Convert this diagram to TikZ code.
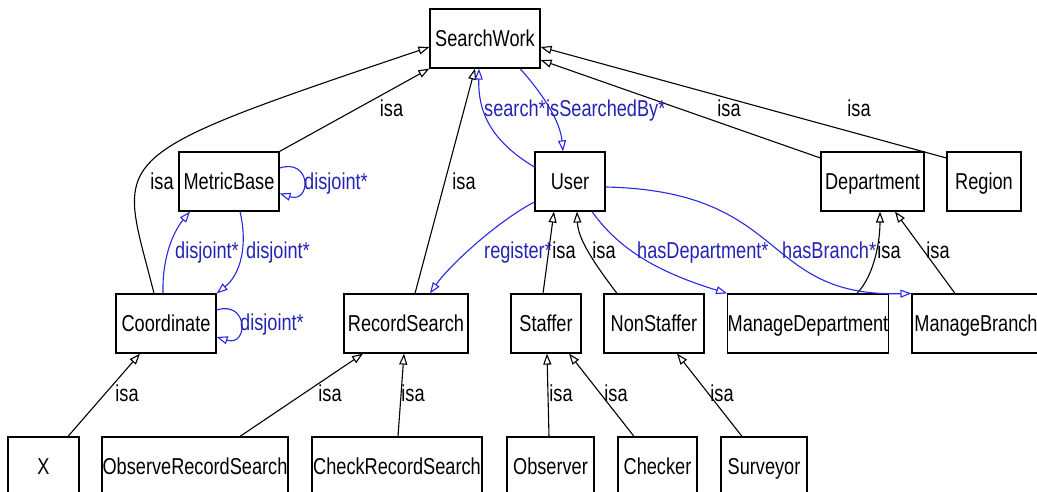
\documentclass[tikz,border=0pt]{standalone}
\usepackage{fontspec}
\setmainfont[FakeStretch=0.79]{Liberation Sans}
\usetikzlibrary{arrows.meta}

\definecolor{relline}{RGB}{40,40,230}
\definecolor{reltext}{RGB}{35,35,180}

\tikzset{
	cls/.style={draw, line width=1.2pt, minimum height=59pt, inner sep=0pt, text height=16.4pt, text depth=0pt},
	isa/.style={draw, line width=1.1pt, -{Triangle[open, length=11pt, width=8pt]}},
	rel/.style={isa, draw=relline},
	lbl/.style={inner sep=0pt, text height=16.4pt, text depth=0pt},
	rellbl/.style={lbl, text=reltext}
}

\begin{document}
\begin{tikzpicture}[x=1pt,y=-1pt,font=\fontsize{23}{27}\selectfont]
			%\draw [help lines,step=50] (0,0) grid (1037,492);
			\useasboundingbox (0,0) rectangle (1037,492);
			% classes
			\node[cls,minimum width=110pt] (searchwork) at (485,38.5) {SearchWork};
			\node[cls,minimum width=100pt] (metricbase) at (229,181.5) {MetricBase};
			\node[cls,minimum width=70pt] (user) at (570,181.5) {User};
			\node[cls,minimum width=103pt] (department) at (872.5,181.5) {Department};
			\node[cls,minimum width=74pt] (region) at (984,181.5) {Region};
			\node[cls,minimum width=100pt] (coordinate) at (166,323.5) {Coordinate};
			\node[cls,minimum width=124pt] (recordsearch) at (406,323.5) {RecordSearch};
			\node[cls,minimum width=70pt] (staffer) at (546,323.5) {Staffer};
			\node[cls,minimum width=100pt] (nonstaffer) at (654,323.5) {NonStaffer};
			\node[cls,minimum width=160pt] (managedepartment) at (808,323.5) {ManageDepartment};
			\node[cls,minimum width=128pt] (managebranch) at (976,323.5) {ManageBranch};
			\node[cls,minimum width=71pt] (xcls) at (43.5,466.5) {X};
			\node[cls,minimum width=186pt] (observerecordsearch) at (195,466.5) {ObserveRecordSearch};
			\node[cls,minimum width=170pt] (checkrecordsearch) at (397,466.5) {CheckRecordSearch};
			\node[cls,minimum width=87pt] (observer) at (550.5,466.5) {Observer};
			\node[cls,minimum width=79pt] (checker) at (657.5,466.5) {Checker};
			\node[cls,minimum width=86pt] (surveyor) at (764,466.5) {Surveyor};
			% isa edges
			\draw[isa] (metricbase.north east) -- (searchwork.south west);
			\draw[isa] ([xshift=-12pt]coordinate.north) .. controls +(-35,-140) and +(-335,113) .. ([yshift=-8.5pt]searchwork.west);
			\draw[isa] ([xshift=9pt]recordsearch.north) -- ([xshift=-10pt]searchwork.south);
			\draw[isa] ([yshift=23.5pt]department.west) -- ([yshift=-21.5pt]searchwork.east);
			\draw[isa] ([yshift=23.5pt]region.west) -- ([yshift=-8.5pt]searchwork.east);
			\draw[isa] ([xshift=-3pt]staffer.north) -- ([xshift=-16pt]user.south);
			\draw[isa] ([xshift=-37pt]nonstaffer.north) .. controls +(-22,-29) and +(1,28) .. ([xshift=7pt]user.south);
			\draw[isa] ([xshift=49pt]managedepartment.north) .. controls +(18,-19) and +(0,28) .. ([xshift=7.5pt]department.south);
			\draw[isa] ([xshift=-21pt]managebranch.north) -- ([xshift=22.5pt]department.south);
			\draw[isa] ([xshift=24.5pt]xcls.north) -- ([xshift=-26pt]coordinate.south);
			\draw[isa] ([xshift=45pt]observerecordsearch.north) -- ([xshift=-43pt]recordsearch.south);
			\draw[isa] ([xshift=1pt]checkrecordsearch.north) -- ([xshift=-2pt]recordsearch.south);
			\draw[isa] ([xshift=-1.5pt]observer.north) -- ([xshift=1pt]staffer.south);
			\draw[isa] ([xshift=-23.5pt]checker.north) -- ([xshift=23pt]staffer.south);
			\draw[isa] ([xshift=-22pt]surveyor.north) -- ([xshift=23pt]nonstaffer.south);
			% relations
			\draw[rel] ([yshift=14.5pt]user.west) .. controls +(-45,-27) and +(-1,42) .. ([xshift=-6pt]searchwork.south);
			\draw[rel] ([xshift=35pt]searchwork.south) .. controls +(20,22) and +(-3,-32) .. ([xshift=-7pt]user.north);
			\draw[rel] ([yshift=13.5pt]metricbase.east) .. controls +(32,-10) and +(32,10) .. ([yshift=-12pt]metricbase.east);
			\draw[rel] ([xshift=11pt]metricbase.south) .. controls +(8,34) and +(24,-19) .. (coordinate.north east);
			\draw[rel] ([xshift=-3pt]coordinate.north) .. controls +(-1,-39) and +(-15,18) .. ([xshift=-39pt]metricbase.south);
			\draw[rel] ([yshift=13.5pt]coordinate.east) .. controls +(32,-10) and +(32,10) .. ([yshift=-13.5pt]coordinate.east);
			\draw[rel] ([yshift=-20.5pt]user.west) .. controls +(-35,18) and +(20,-29) .. ([xshift=24pt]recordsearch.north);
			\draw[rel] ([xshift=22pt]user.south) .. controls +(28,39) and +(-68,-21) .. (managedepartment.north west);
			\draw[rel] ([yshift=-5.5pt]user.east) .. controls +(185,4) and +(-152,4) .. (managebranch.north west);
			% labels
			\node[lbl] (l1) at (391.5,108) {isa};
			\node[lbl] (l2) at (162,181) {isa};
			\node[lbl] (l3) at (464,181) {isa};
			\node[lbl] (l4) at (729,108) {isa};
			\node[lbl] (l5) at (859,108) {isa};
			\node[lbl] (l6) at (564,250) {isa};
			\node[lbl] (l7) at (604,250) {isa};
			\node[lbl] (l8) at (889,250) {isa};
			\node[lbl] (l9) at (938,250) {isa};
			\node[lbl] (l10) at (127,393) {isa};
			\node[lbl] (l11) at (330,393) {isa};
			\node[lbl] (l12) at (413,393) {isa};
			\node[lbl] (l13) at (561,393) {isa};
			\node[lbl] (l14) at (616,393) {isa};
			\node[lbl] (l15) at (722,393) {isa};
			\node[rellbl,anchor=west] (r1) at (484,108) {search*};
			\node[rellbl,anchor=west] (r2) at (r1.east) {isSearchedBy*};
			\node[rellbl,anchor=west] (r3) at (304,181) {disjoint*};
			\node[rellbl] (r4) at (207,250) {disjoint*};
			\node[rellbl] (r5) at (278,250) {disjoint*};
			\node[rellbl,anchor=west] (r6) at (240,322) {disjoint*};
			\node[rellbl,anchor=west] (r7) at (484,250) {register*};
			\node[rellbl,anchor=west] (r8) at (637,250) {hasDepartment*};
			\node[rellbl,anchor=west] (r9) at (782,250) {hasBranch*};
		\end{tikzpicture}
\end{document}
